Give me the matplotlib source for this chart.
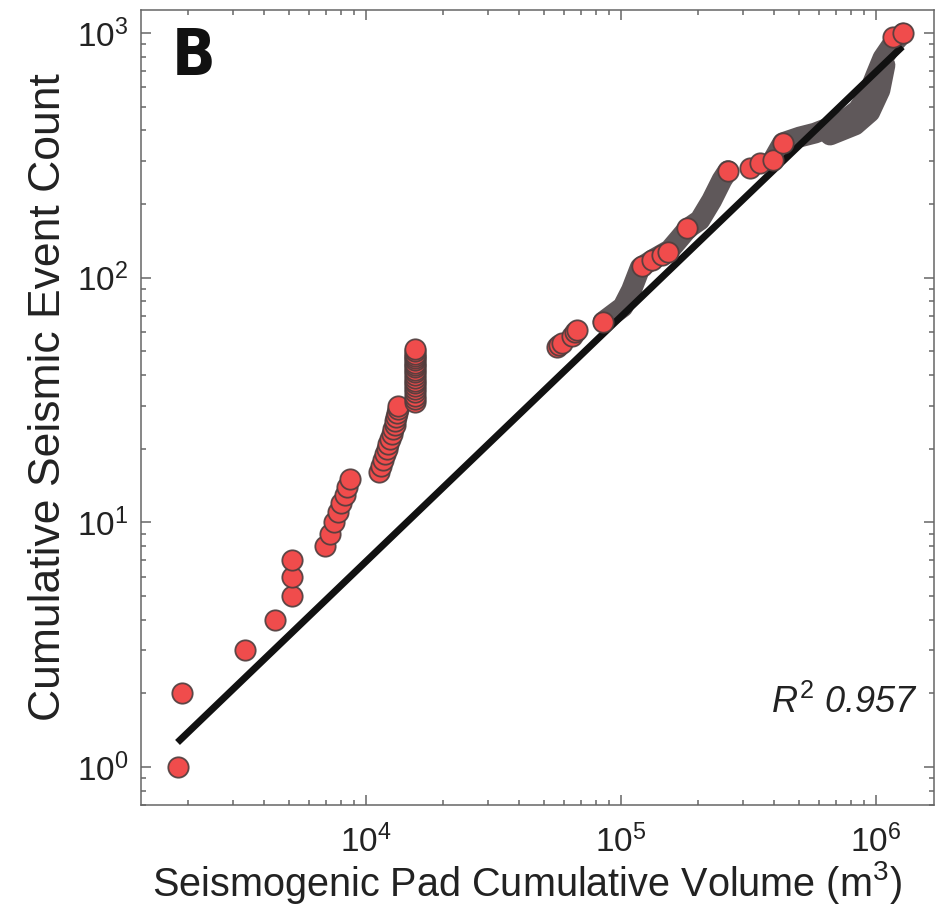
import matplotlib.pyplot as plt
from matplotlib.ticker import LogLocator, NullFormatter

plt.rcParams['font.family'] = ['Liberation Sans', 'DejaVu Sans']
plt.rcParams['mathtext.fontset'] = 'custom'
plt.rcParams['mathtext.rm'] = 'Liberation Sans'
plt.rcParams['mathtext.it'] = 'Liberation Sans:italic'
plt.rcParams['mathtext.bf'] = 'Liberation Sans:bold'

# sparse early events (m3, cumulative count)
vol_early = [1830, 1900, 3350, 4400, 5130, 5130, 5130,
             6900, 7200, 7500, 7750, 8000, 8250, 8450, 8650,
             11250, 11450, 11650, 11850, 12100, 12250, 12400, 12650,
             12800, 12950, 13050, 13150, 13250, 13300, 13350]
count_early = [1, 2, 3, 4, 5, 6, 7,
               8, 9, 10, 11, 12, 13, 14, 15,
               16, 17, 18, 19, 20, 21, 22, 23,
               24, 25, 26, 27, 28, 29, 30]

# vertical stack at one pad volume
vol_stack = [15560, 15560, 15560, 15560, 15560, 15560, 15560,
             15560, 15560, 15560, 15560, 15560, 15560, 15560,
             15560, 15560, 15560, 15560, 15560, 15560, 15560]
count_stack = [31, 32, 33, 34, 35, 36, 37, 38, 39, 40, 41,
               42, 43, 44, 45, 46, 47, 48, 49, 50, 51]

vol_mid = [56000, 57200, 58500, 64000, 66000, 67500]
count_mid = [52, 53, 54, 58, 60, 61]

# dense part: hundreds of overlapping events, traced as bands
band_a_vol = [85000, 101800, 110000, 119000, 136000, 155500, 170000,
              183000, 204000, 227000, 249000, 263000]
band_a_cnt = [66, 76, 89, 110, 120, 130, 145, 159, 172, 207, 251, 274]
band_b_vol = [394000, 431000, 503000, 577000, 661000, 756000, 849000,
              930000, 1000000, 1065000, 1155000, 1277000]
band_b_cnt = [302, 356, 376, 390, 412, 441, 484, 557, 673, 789, 893, 1000]
band_c_vol = [661000, 828000, 946000, 1037000, 1085000]
band_c_cnt = [383, 421, 475, 584, 739]

# events still visible as red circles inside the dense part
vol_dense = [85000, 120800, 132300, 145000, 153000, 181500, 263000,
             321000, 351000, 394000, 431000, 1167000, 1277000]
count_dense = [66, 112, 118, 124, 127, 159, 274,
               281, 294, 302, 356, 960, 1000]

# power-law fit
fit_vol = [1866, 1240000]
fit_cnt = [1.29, 860]

red = '#f04c4c'
edge = (0.30, 0.24, 0.24, 0.9)
band_col = '#5f585a'
frame_col = '#666666'

fig = plt.figure(figsize=(9.47, 9.09), dpi=100)
ax = fig.add_axes([0.1489, 0.1144, 0.8374, 0.8746])

for bx, by in [(band_a_vol, band_a_cnt), (band_b_vol, band_b_cnt),
               (band_c_vol, band_c_cnt)]:
    ax.plot(bx, by, color=band_col, linewidth=15, solid_capstyle='round',
            solid_joinstyle='round', zorder=1)

ax.plot(fit_vol, fit_cnt, color='#111111', linewidth=5, zorder=2)

ax.scatter(vol_early + vol_stack + vol_mid, count_early + count_stack + count_mid,
           s=215, c=red, edgecolors=[edge], linewidths=1.3, zorder=3)
ax.scatter(vol_dense, count_dense, s=215, c=red, edgecolors=[edge],
           linewidths=1.3, zorder=3)

ax.set_xscale('log')
ax.set_yscale('log')
ax.set_xlim(1312, 1.69e6)
ax.set_ylim(0.70, 1242)

ax.xaxis.set_major_locator(LogLocator(base=10, numticks=10))
ax.yaxis.set_major_locator(LogLocator(base=10, numticks=10))
for axis in (ax.xaxis, ax.yaxis):
    axis.set_minor_locator(LogLocator(base=10, subs=range(2, 10), numticks=20))
    axis.set_minor_formatter(NullFormatter())

ax.tick_params(which='both', direction='in', top=True, right=True,
               color=frame_col, width=1.1)
ax.tick_params(which='major', length=7, labelsize=24, labelcolor='#222222')
ax.tick_params(which='minor', length=3.6)
ax.tick_params(axis='x', which='major', pad=14)
ax.tick_params(axis='y', which='major', pad=9)
for sp in ax.spines.values():
    sp.set_color(frame_col)
    sp.set_linewidth(1.1)

ax.set_xlabel('Seismogenic Pad Cumulative Volume (m$^3$)', fontsize=28.5,
              color='#222222')
ax.set_ylabel('Cumulative Seismic Event Count', fontsize=32,
              color='#222222')
ax.xaxis.set_label_coords(0.487, -0.068)
ax.yaxis.set_label_coords(-0.091, 0.513)

ax.text(0.039, 0.918, 'B', transform=ax.transAxes, fontsize=46,
        fontweight='bold', fontstretch='condensed',
        family=['DejaVu Sans'], ha='left', va='baseline', color='#111111')
ax.text(0.979, 0.116, r'$R^{2}$ 0.957', transform=ax.transAxes,
        fontsize=26, style='italic', ha='right', va='baseline', color='#222222')

fig.savefig('out.png', dpi=100)
